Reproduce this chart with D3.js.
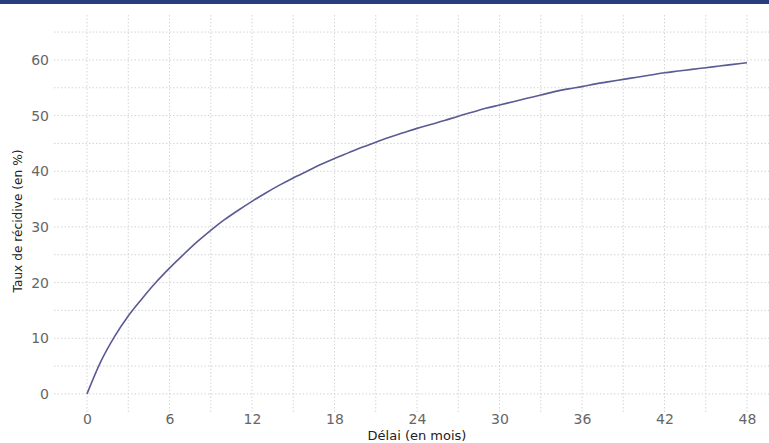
<!DOCTYPE html>
<html>
<head>
<meta charset="utf-8">
<script src="https://cdn.jsdelivr.net/npm/d3@7.9.0/dist/d3.min.js"></script>
<style>
  body { margin: 0; background: #fff; }
  svg { display: block; font-family: "DejaVu Sans", sans-serif; }
</style>
</head>
<body>
<svg id="chart"></svg>
<script>
const width = 769;
const height = 443;

// Délai en mois, taux de récidive cumulé (%)
const months = d3.range(0, 49);
const rates = [
  0, 5.8, 10.3, 14.0, 17.1, 20.0, 22.6, 25.0, 27.3, 29.4,
  31.3, 33.0, 34.6, 36.1, 37.5, 38.8, 40.0, 41.2, 42.3, 43.3,
  44.3, 45.2, 46.1, 46.9, 47.7, 48.4, 49.1, 49.9, 50.6, 51.3,
  51.9, 52.5, 53.1, 53.7, 54.3, 54.8, 55.2, 55.7, 56.1, 56.5,
  56.9, 57.3, 57.7, 58.0, 58.3, 58.6, 58.9, 59.2, 59.5
];
const xTicks = [0, 6, 12, 18, 24, 30, 36, 42, 48];
const xMinor = [3, 9, 15, 21, 27, 33, 39, 45, 51];
const yTicks = [0, 10, 20, 30, 40, 50, 60];
const yMinor = [5, 15, 25, 35, 45, 55, 65];

const svg = d3.select("#chart").attr("width", width).attr("height", height);

// bandeau du haut
svg.append("rect").attr("x", 0).attr("y", 0).attr("width", width).attr("height", 4)
    .attr("fill", "#283c7e");

const x = d3.scaleLinear().domain([-2.4, 50.4]).range([54, 780]);
const y = d3.scaleLinear().domain([-3.25, 68.25]).range([412, 14]);

const grid = svg.append("g");
const [x0, x1] = x.range();
const [y0, y1] = y.range();

// grille horizontale
grid.selectAll("line.h")
    .data(yTicks.concat(yMinor))
    .join("line")
    .attr("x1", x0).attr("x2", x1)
    .attr("y1", d => y(d)).attr("y2", d => y(d))
    .attr("stroke", "#d4d4d4").attr("stroke-width", 1)
    .attr("stroke-dasharray", "1.5,2");

// grille verticale
grid.selectAll("line.v")
    .data(xTicks.concat(xMinor))
    .join("line")
    .attr("x1", d => x(d)).attr("x2", d => x(d))
    .attr("y1", y0).attr("y2", y1)
    .attr("stroke", "#d4d4d4").attr("stroke-width", 1)
    .attr("stroke-dasharray", "1.5,2");

// courbe
const line = d3.line()
    .x((d, i) => x(months[i]))
    .y(d => y(d))
    .curve(d3.curveMonotoneX);
svg.append("path")
    .datum(rates)
    .attr("d", line)
    .attr("fill", "none")
    .attr("stroke", "#5a5a94")
    .attr("stroke-width", 1.6);

// axes
const xAxis = svg.append("g")
    .attr("transform", `translate(0,${y0})`)
    .call(d3.axisBottom(x).tickValues(xTicks).tickSize(0).tickPadding(2));
const yAxis = svg.append("g")
    .attr("transform", `translate(${x0},0)`)
    .call(d3.axisLeft(y).tickValues(yTicks).tickSize(0).tickPadding(5));

[xAxis, yAxis].forEach(a => {
    a.select(".domain").remove();
    a.selectAll("text")
        .attr("fill", "#666")
        .style("font-size", "14px")
        .style("font-family", "DejaVu Sans, sans-serif");
});

svg.append("text")
    .attr("x", (x0 + x1) / 2)
    .attr("y", 439.5)
    .attr("text-anchor", "middle")
    .attr("fill", "#222")
    .style("font-size", "13px")
    .text("Délai (en mois)");

svg.append("text")
    .attr("transform", `translate(22,221) rotate(-90)`)
    .attr("text-anchor", "middle")
    .attr("fill", "#222")
    .style("font-size", "12.2px")
    .text("Taux de récidive (en %)");
</script>
</body>
</html>
